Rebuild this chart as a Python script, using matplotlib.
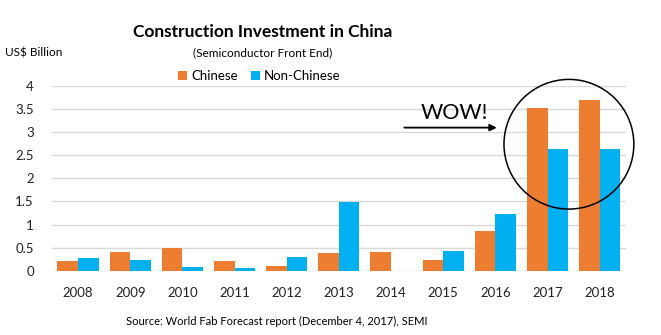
import matplotlib
matplotlib.use('Agg')
import numpy as np
from matplotlib import pyplot as plt
from matplotlib.patches import Ellipse

plt.rcParams['font.family'] = ['Lato', 'DejaVu Sans']

years = ['2008', '2009', '2010', '2011', '2012', '2013',
         '2014', '2015', '2016', '2017', '2018']
chinese = [0.20, 0.41, 0.49, 0.21, 0.11, 0.39, 0.41, 0.23, 0.87, 3.52, 3.70]
non_chinese = [0.27, 0.23, 0.08, 0.065, 0.29, 1.49, 0.0, 0.43, 1.23, 2.63, 2.63]

orange = '#ED7D31'
blue = '#00B0F0'

fig = plt.figure(figsize=(6.61, 3.35), dpi=100)
ax = fig.add_axes([0.0787, 0.192, 0.868, 0.551])

x = np.arange(len(years))
w = 0.395
ax.bar(x - w / 2, chinese, w, color=orange, label='Chinese', zorder=3)
ax.bar(x + w / 2, non_chinese, w, color=blue, label='Non-Chinese', zorder=3)

ax.set_xlim(-0.5, len(years) - 0.5)
ax.set_ylim(0, 4)
ax.set_yticks(np.arange(0, 4.01, 0.5))
ax.set_yticklabels(['0', '0.5', '1', '1.5', '2', '2.5', '3', '3.5', '4'])
ax.set_xticks(x)
ax.set_xticklabels(years)
ax.tick_params(length=0, labelsize=9.5, colors='#222222')
ax.tick_params(axis='y', pad=13)
ax.tick_params(axis='x', pad=12)
ax.grid(axis='y', color='#D9D9D9', linewidth=1, zorder=0)
for s in ax.spines.values():
    s.set_visible(False)

# circle + arrow + WOW
circ = Ellipse((9.41, 2.74), 2.49, 2.81, fill=False, edgecolor='black',
               linewidth=1.1, clip_on=False, zorder=5)
ax.add_patch(circ)
ax.annotate('', xy=(8.08, 3.10), xytext=(6.20, 3.10),
            arrowprops=dict(arrowstyle='-|>', color='black', lw=1.3,
                            mutation_scale=10), zorder=5)
ax.text(7.22, 3.41, 'WOW!', fontsize=15.5, ha='center', va='center', zorder=5)

fig.text(0.398, 0.905, 'Construction Investment in China', fontsize=12.5,
         fontweight='bold', ha='center', va='center')
fig.text(0.398, 0.842, '(Semiconductor Front End)', fontsize=8.5,
         ha='center', va='center')
fig.text(0.008, 0.842, 'US$ Billion', fontsize=8.5, ha='left', va='center')
fig.text(0.418, 0.04, 'Source: World Fab Forecast report (December 4, 2017), SEMI',
         fontsize=8, ha='center', va='center')

fig.legend(loc='center', bbox_to_anchor=(0.392, 0.773), ncol=2, frameon=False,
           fontsize=9.5, handlelength=0.7, handleheight=0.7, handletextpad=0.3,
           columnspacing=1.0)

fig.savefig('out.png', dpi=100)
